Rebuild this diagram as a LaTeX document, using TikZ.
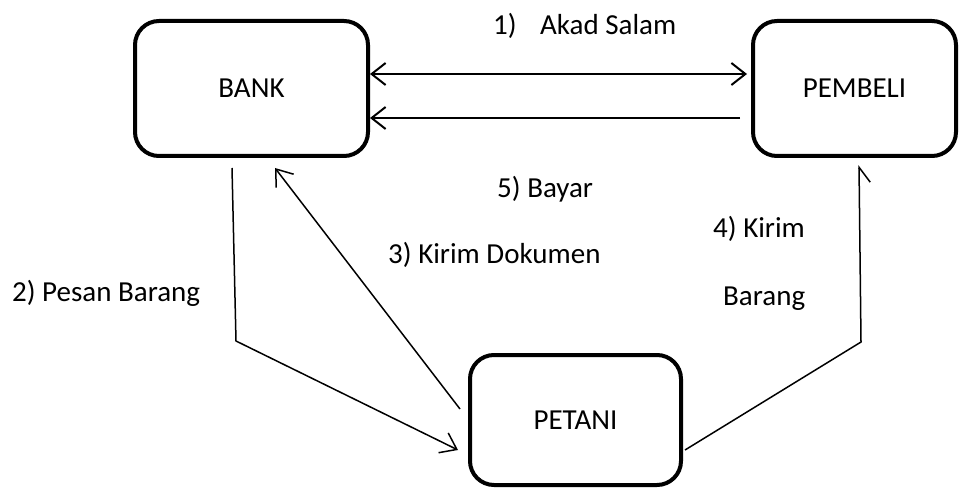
\documentclass[tikz,border=0pt]{standalone}
\usepackage{fontspec}
\setmainfont{Carlito}
\usetikzlibrary{arrows.meta}
\begin{document}
\begin{tikzpicture}[x=1pt,y=-1pt,
  entity/.style={draw, line width=4pt, rounded corners=24pt, inner sep=0pt,
    font=\fontsize{29}{35}\selectfont},
  lbl/.style={anchor=base west, inner sep=0pt, font=\fontsize{29}{35}\selectfont},
  barb/.style={Straight Barb[length=14pt,width=22pt]},
  flow/.style={line width=2pt},
  link/.style={line width=1.5pt},
]
\useasboundingbox (0,0) rectangle (960,489);

% parties
\node[entity, minimum width=233pt, minimum height=135pt] (bank) at (251.5,88.5) {BANK};
\node[entity, minimum width=203pt, minimum height=135pt] (pembeli) at (854.5,88.5) {PEMBELI};
\node[entity, minimum width=211pt, minimum height=130pt] (petani) at (575.5,420) {PETANI};

% labels of the steps
\node[lbl] (l1) at (493,35) {1)\hspace{23.5pt}Akad Salam};
\node[lbl] (l5) at (497,197) {5) Bayar};
\node[lbl] (l4a) at (713,237) {4) Kirim};
\node[lbl] (l4b) at (723,305) {Barang};
\node[lbl] (l3) at (388,263) {3) Kirim Dokumen};
\node[lbl] (l2) at (12,301) {2) Pesan Barang};

% bend points
\coordinate (pesanBend) at (236,341);
\coordinate (kirimBend) at (861,342);

% 1) contract between bank and buyer
\draw[flow, {Straight Barb[length=14pt,width=22pt]}-{Straight Barb[length=14pt,width=22pt]}, shorten >=4pt]
  ([yshift=14.5pt]bank.east) -- ([yshift=14.5pt]pembeli.west);
% 5) payment
\draw[flow, -{Straight Barb[length=14pt,width=22pt]}]
  ([xshift=-11pt,yshift=-29.5pt]pembeli.west) -- ([yshift=-29.5pt]bank.east);
% 2) order of goods
\draw[link, -{Straight Barb[length=15pt,width=22pt]}]
  ([xshift=-19.5pt,yshift=-10pt]bank.south) -- (pesanBend)
  -- ([xshift=-10pt,yshift=-30pt]petani.west);
% 3) documents
\draw[link, -{Straight Barb[length=15pt,width=22pt]}]
  ([xshift=-8pt,yshift=11pt]petani.west) -- ([xshift=23.5pt,yshift=-10pt]bank.south);
% 4) delivery of goods
\draw[link, -{Straight Barb[length=15pt,width=22pt,right]}]
  ([xshift=2pt,yshift=-30pt]petani.east) -- (kirimBend)
  -- ([xshift=4.5pt,yshift=-7pt]pembeli.south);
\end{tikzpicture}
\end{document}
